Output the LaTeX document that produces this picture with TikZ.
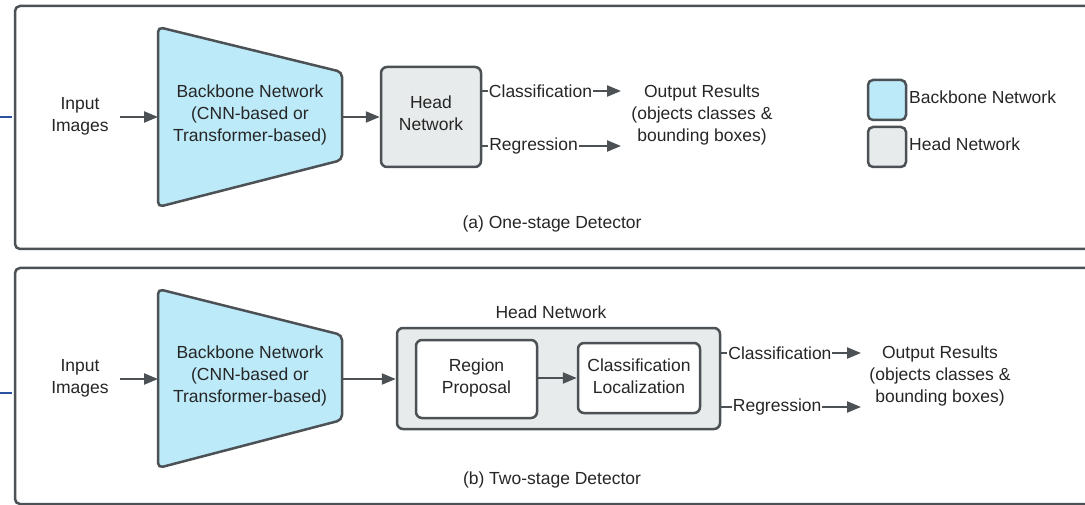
\documentclass[tikz,border=0pt]{standalone}
\usepackage{fontspec}
\setmainfont{Liberation Sans}
\usetikzlibrary{arrows.meta}
\definecolor{bord}{HTML}{4B5154}
\definecolor{bbfill}{HTML}{BCEAF9}
\definecolor{hdfill}{HTML}{E8EBEB}
\definecolor{txt}{HTML}{262626}
\definecolor{blueline}{HTML}{2A52A0}
\tikzset{
  panel/.style={draw=bord, line width=2.5pt, rounded corners=5pt},
  bbshape/.style={draw=bord, fill=bbfill, line width=2.5pt, rounded corners=5pt},
  headbox/.style={draw=bord, fill=hdfill, line width=2.5pt, rounded corners=6pt},
  innerbox/.style={draw=bord, fill=white, line width=2.5pt, rounded corners=6pt},
  lbl/.style={text=txt, align=center, font=\fontsize{17.5}{22}\selectfont, inner sep=1pt},
  onlbl/.style={text=txt, font=\fontsize{17.5}{22}\selectfont, fill=white, inner xsep=1pt, inner ysep=0pt},
  arr/.style={draw=bord, line width=2.3pt, -{Triangle[length=14pt,width=11pt]}},
}
\begin{document}
\begin{tikzpicture}[x=1pt,y=-1pt]
\useasboundingbox (0,0) rectangle (1085,505);
\clip (0,0) rectangle (1085,505);
% blue edge marks
\draw[blueline, line width=2.4pt] (0,117) -- (12,117);
\draw[blueline, line width=2.4pt] (0,393) -- (12,393);
% panels
\draw[panel] (15,6) rectangle (1100,249);
\draw[panel] (15,268) rectangle (1100,504);

% ---------- (a) one-stage ----------
\node[lbl] (in1) at (80,116) {Input\\Images};
\draw[bbshape] (158,27) -- (342,72) -- (342,160) -- (158,207) -- cycle;
\coordinate (bb1L) at (158,117);
\coordinate (bb1R) at (342,117);
\node[lbl] (bb1) at (250,115) {Backbone Network\\(CNN-based or\\Transformer-based)};
\node[headbox, minimum width=100pt, minimum height=100pt] (hd1) at (431,117) {};
\node[lbl] (hd1t) at (431,113) {Head\\Network};
\node[lbl] (out1) at (702,115) {Output Results\\(objects classes \&\\bounding boxes)};
\coordinate (c1e) at (621,91);
\coordinate (r1e) at (621,146);
\draw[arr] (hd1.east |- c1e) -- node[onlbl, pos=0.42] (cls1) {Classification} (c1e);
\draw[arr] (hd1.east |- r1e) -- node[onlbl, pos=0.37] (reg1) {Regression} (r1e);
\draw[arr] ([xshift=-38pt]bb1L) -- (bb1L);
\draw[arr] (bb1R) -- (hd1.west);
% legend
\node[draw=bord, fill=bbfill, line width=2.5pt, rounded corners=5pt, minimum width=38pt, minimum height=40pt] (lg1) at (887,100) {};
\node[draw=bord, fill=hdfill, line width=2.5pt, rounded corners=5pt, minimum width=38pt, minimum height=40pt] (lg2) at (887,147) {};
\node[lbl, anchor=west] (lg1t) at (908,97) {Backbone Network};
\node[lbl, anchor=west] (lg2t) at (908,144) {Head Network};
\node[lbl] (capa) at (552,224) {(a) One-stage Detector};

% ---------- (b) two-stage ----------
\node[lbl] (in2) at (80,378) {Input\\Images};
\draw[bbshape] (158,289) -- (342,335) -- (342,420) -- (158,468) -- cycle;
\coordinate (bb2L) at (158,379);
\coordinate (bb2R) at (342,379);
\node[lbl] (bb2) at (250,376) {Backbone Network\\(CNN-based or\\Transformer-based)};
\node[headbox, minimum width=323pt, minimum height=101pt] (hd2) at (558.5,378.5) {};
\node[lbl] (hd2t) at (551,312) {Head Network};
\node[innerbox, minimum width=121pt, minimum height=78pt] (rp) at (476.5,379) {};
\node[lbl] (rpt) at (476.5,378) {Region\\Proposal};
\node[innerbox, minimum width=122pt, minimum height=70pt] (cl) at (639,378) {};
\node[lbl] (clt) at (639,376) {Classification\\Localization};
\draw[arr] (rp.east |- cl.west) -- (cl.west);
\node[lbl] (out2) at (940,376) {Output Results\\(objects classes \&\\bounding boxes)};
\coordinate (c2e) at (861,353);
\coordinate (r2e) at (861,407);
\draw[arr] (hd2.east |- c2e) -- node[onlbl, pos=0.42] (cls2) {Classification} (c2e);
\draw[arr] (hd2.east |- r2e) -- node[onlbl, pos=0.40] (reg2) {Regression} (r2e);
\draw[arr] ([xshift=-38pt]bb2L) -- (bb2L);
\draw[arr] (bb2R) -- (hd2.west |- bb2R);
\node[lbl] (capb) at (552,480) {(b) Two-stage Detector};
\end{tikzpicture}
\end{document}
